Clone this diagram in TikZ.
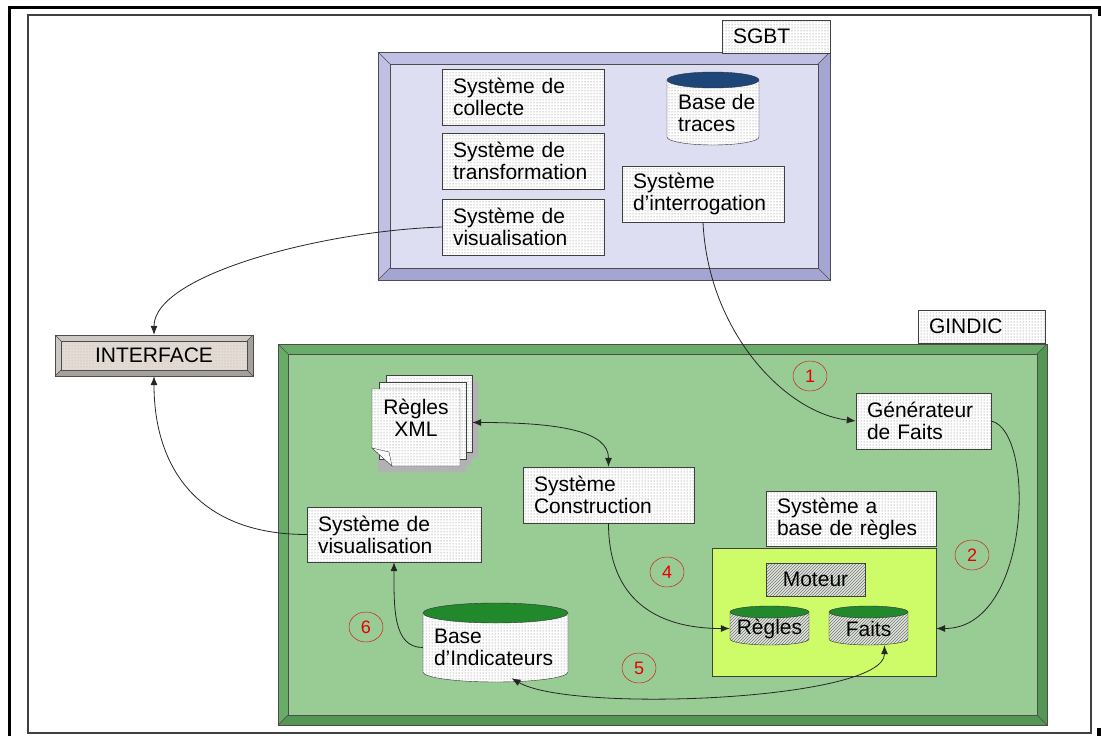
\documentclass[tikz,border=0pt]{standalone}
\usepackage{fontspec}
\setmainfont{Liberation Sans}
\usetikzlibrary{arrows.meta,patterns,shapes.geometric}

\definecolor{sgbtclair}{RGB}{192,192,228}
\definecolor{sgbtsombre}{RGB}{165,165,212}
\definecolor{sgbtfond}{RGB}{222,222,242}
\definecolor{gindicclair}{RGB}{104,172,104}
\definecolor{gindicsombre}{RGB}{84,150,84}
\definecolor{gindicfond}{RGB}{152,204,148}
\definecolor{interclair}{RGB}{205,200,195}
\definecolor{intersombre}{RGB}{165,160,155}
\definecolor{interfond}{RGB}{228,220,212}
\definecolor{jaunevert}{RGB}{206,252,104}
\definecolor{bleutrace}{RGB}{30,70,120}
\definecolor{vertbase}{RGB}{34,136,44}
\definecolor{hachfond}{RGB}{225,232,220}

\newcommand{\police}{\fontsize{21}{22}\selectfont}

% cadre en biseau : x1 y1 x2 y2 largeur prefixe
\newcommand{\cadre}[6]{%
  \filldraw[fill=#6clair,draw=black!70] (#1,#2) rectangle (#3,#4);
  \fill[#6sombre] (#3,#2) -- (#3,#4) -- (#1,#4) -- ({#1+#5},{#4-#5}) -- ({#3-#5},{#4-#5}) -- ({#3-#5},{#2+#5}) -- cycle;
  \filldraw[fill=#6fond,draw=black!70] ({#1+#5},{#2+#5}) rectangle ({#3-#5},{#4-#5});
  \draw[black!70] (#1,#2) -- ++(#5,#5) (#3,#2) -- ++(-#5,#5) (#1,#4) -- ++(#5,-#5) (#3,#4) -- ++(-#5,-#5);
  \draw[black!70] (#1,#2) rectangle (#3,#4);
}
% base de donnees : x1 y1 x2 y2 ry couleur style
\newcommand{\bidon}[7]{%
  \path[#7,draw=black!80] (#1,{#2+#5}) -- (#1,{#4-#5}) arc[start angle=180,end angle=0,x radius={(#3-#1)/2},y radius=#5] -- (#3,{#2+#5}) -- cycle;
  \filldraw[fill=#6,draw=black!80] ({(#1+#3)/2},{#2+#5}) ellipse[x radius={(#3-#1)/2},y radius=#5];
}

\begin{document}
\begin{tikzpicture}[x=1pt,y=-1pt,
    pointille/.style={preaction={fill=white}, pattern=dots, pattern color=black!55},
    hachure/.style={preaction={fill=hachfond}, pattern=north east lines, pattern color=black!55},
    boite/.style={draw=black!75, pointille, align=left, inner xsep=11pt, inner ysep=2pt, font=\police},
    texte/.style={align=left, inner xsep=11pt, inner ysep=0pt, font=\police},
    rond/.style={ellipse, draw=red!85!black, text=red!90!black, minimum width=34pt, minimum height=30pt, inner sep=0pt, font=\fontsize{18}{18}\selectfont},
    fleche/.style={-{Latex[length=9pt,width=7pt]}, draw=black!85, line width=0.8pt},
    fleches/.style={{Latex[length=9pt,width=7pt]}-{Latex[length=9pt,width=7pt]}, draw=black!85, line width=0.8pt}]
    \useasboundingbox (0,0) rectangle (1101,736);
    \fill[white] (0,0) rectangle (1101,736);

    % bordure de page
    \draw[black, line width=3pt] (9,736) -- (9,7) -- (1099,7) -- (1099,16);
    \fill[black] (1097,728) rectangle (1101,736);
    \draw[black!75, line width=1.3pt] (28,15) rectangle (1091,733);

    % SGBT
    \cadre{378}{52}{830}{280}{12}{sgbt}
    \node[boite, text width=86pt, minimum height=33pt] (sgbt) at (776,36.5) {SGBT};
    \node[boite, text width=140pt, minimum height=56pt] (collecte) at (523,97) {Système de\\collecte};
    \node[boite, text width=140pt, minimum height=56pt] (transfo) at (523,161) {Système de\\transformation};
    \node[boite, text width=140pt, minimum height=56pt] (visuS) at (523,227) {Système de\\visualisation};
    \node[boite, text width=140pt, minimum height=56pt] (interro) at (703,194) {Système\\d'interrogation};
    \bidon{667}{72}{759}{145}{8}{bleutrace}{pointille}
    \node[texte, inner xsep=0pt, anchor=west] (traces) at (678,112.5) {Base de\\traces};

    % INTERFACE
    \cadre{55}{335}{253}{376}{6}{inter}
    \path[pattern=dots, pattern color=black!30] (61,341) rectangle (247,370);
    \node[font=\police, minimum width=198pt, minimum height=41pt] (interface) at (154,355.5) {INTERFACE};

    % GINDIC
    \cadre{278}{344}{1047}{725}{10}{gindic}
    \node[boite, text width=105pt, minimum height=33pt] (gindic) at (981.5,326.5) {GINDIC};
    \node[boite, text width=113pt, minimum height=56pt] (generateur) at (923.5,421) {Générateur\\de Faits};
    \node[boite, text width=149pt, minimum height=56pt] (construction) at (608.5,495) {Système\\Construction};
    \node[boite, text width=148pt, minimum height=55pt] (sbr) at (851,518.5) {Système a\\base de règles};
    \node[boite, text width=152pt, minimum height=55pt] (visuG) at (394,534.5) {Système de\\visualisation};

    % pile Regles XML
    \fill[gray!60] (392,381) rectangle (478,458) (385,388) rectangle (471,465) (378,395) rectangle (466,472);
    \path[pointille, draw=black!75] (386,375) rectangle (472,452);
    \path[pointille, draw=black!75] (379,382) rectangle (466,459);
    \path[pointille, draw=black!75] (372,389) -- (460,389) -- (460,466) -- (392,466) -- (372,448) -- cycle;
    \filldraw[fill=white, draw=black!75] (372,448) -- (389,452) -- (392,466) -- cycle;
    \node[font=\police, align=center, minimum width=88pt, minimum height=57pt, inner sep=0pt] (xml) at (416,417.5) {Règles\\XML};

    % systeme a base de regles
    \node[draw=black!75, fill=jaunevert, minimum width=224pt, minimum height=128pt, inner sep=0pt] (zone) at (824,612) {};
    \node[draw=black!75, hachure, font=\police, minimum width=99pt, minimum height=33pt] (moteur) at (815.5,579.5) {Moteur};
    \bidon{730}{606}{809}{645}{6}{vertbase}{hachure}
    \node[font=\police, minimum width=79pt, minimum height=33pt, inner sep=0pt] (regles) at (769.5,628.5) {Règles};
    \bidon{829}{606}{908}{645}{6}{vertbase}{hachure}
    \node[font=\police, minimum width=79pt, minimum height=33pt, inner sep=0pt] (faits) at (868.5,628.5) {Faits};

    % base d'indicateurs
    \bidon{423}{603}{568}{682}{10}{vertbase}{pointille}
    \node[texte, text width=123pt, minimum height=69pt] (indicateurs) at (495.5,647.5) {Base\\d'Indicateurs};

    % numeros
    \node[rond] (n1) at (810,376) {1};
    \node[rond] (n2) at (972,555) {2};
    \node[rond] (n4) at (667,572) {4};
    \node[rond] (n5) at (639,668) {5};
    \node[rond] (n6) at (366,627) {6};

    % liaisons
    \coordinate (entreefaits) at (zone.east |- faits.center);
    \draw[fleche] (visuS.west) .. controls +(-120,4) and +(0,-60) .. (interface.north);
    \draw[fleche] (visuG.west) .. controls +(-110,0) and +(0,90) .. (interface.south);
    \draw[fleche] (interro.south) .. controls +(5,110) and +(-70,-8) .. (generateur.west);
    \draw[fleche] (generateur.east) .. controls +(45,10) and +(95,0) .. (entreefaits);
    \draw[fleche] (construction.south) .. controls +(0,75) and +(-75,0) .. (regles.west);
    \draw[fleches] ([xshift=16pt,yshift=4pt]indicateurs.south) .. controls +(60,35) and +(0,55) .. ([xshift=16pt]faits.south);
    \draw[fleche] (indicateurs.west) .. controls +(-30,0) and +(0,45) .. (visuG.south);
    \draw[fleches] ([xshift=12pt,yshift=-5pt]xml.east) .. controls +(90,0) and +(0,-35) .. (construction.north);
\end{tikzpicture}
\end{document}
